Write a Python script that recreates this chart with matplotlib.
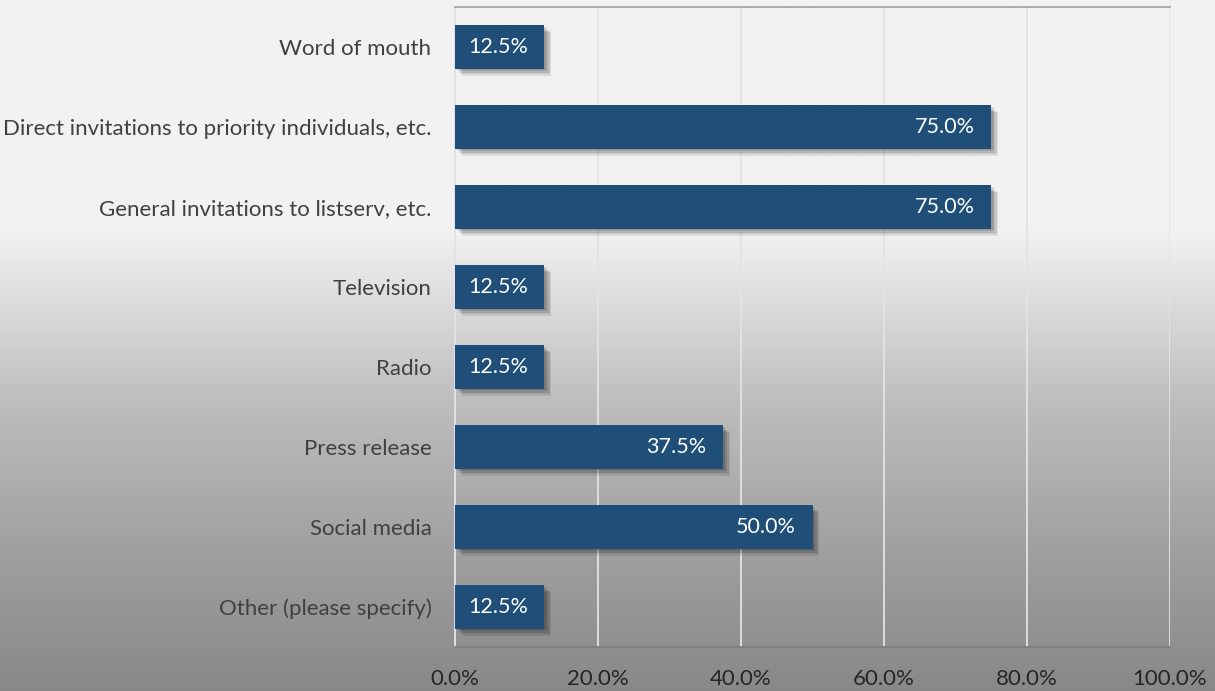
import numpy as np
import matplotlib
matplotlib.use("Agg")
import matplotlib.pyplot as plt
import matplotlib.patheffects as pe
from matplotlib.ticker import FuncFormatter

categories = [
    "Word of mouth",
    "Direct invitations to priority individuals, etc.",
    "General invitations to listserv, etc.",
    "Television",
    "Radio",
    "Press release",
    "Social media",
    "Other (please specify)",
]
values = [12.5, 75.0, 75.0, 12.5, 12.5, 37.5, 50.0, 12.5]
x_ticks = [0, 20, 40, 60, 80, 100]

plt.rcParams['font.family'] = ['Lato', 'DejaVu Sans']

W, H = 1215, 691
fig = plt.figure(figsize=(W / 100, H / 100), dpi=100)

# vertical grey gradient behind everything
rows = np.arange(H)
stops_y = [0, 230, 400, 550, H - 1]
stops_v = [242, 242, 190, 160, 136]
shade = np.interp(rows, stops_y, stops_v) / 255.0
grad = np.repeat(shade[:, None], 2, axis=1)
bg = fig.add_axes([0, 0, 1, 1], zorder=0)
bg.imshow(np.dstack([grad, grad, grad]), aspect='auto', extent=[0, 1, 0, 1])
bg.set_axis_off()

ax = fig.add_axes([455 / W, 1 - 647 / H, (1170 - 455) / W, (647 - 7) / H], zorder=1)
ax.patch.set_alpha(0)

# soft drop shadow built from a few stacked offsets
shadow = [pe.SimplePatchShadow(offset=(dx, -dx), shadow_rgbFace='#000000', alpha=0.09)
          for dx in (1, 2, 3, 4, 5)]
y = np.arange(len(categories))
bars = ax.barh(y, values, height=0.54, color='#1f4e79', zorder=3,
               path_effects=shadow + [pe.Normal()])

for yi, v in zip(y, values):
    ax.annotate(f"{v:.1f}%", xy=(v, yi), xytext=(-12, 0), textcoords='offset points',
                ha='right', va='center', color='white', fontsize=15.5, zorder=4)

ax.set_xlim(0, 100)
ax.set_ylim(len(categories) - 0.5, -0.5)
ax.set_xticks(x_ticks)
ax.xaxis.set_major_formatter(FuncFormatter(lambda v, p: f"{v:.1f}%"))
ax.set_yticks(y)
ax.set_yticklabels(categories)
ax.tick_params(axis='y', length=0, pad=17, labelsize=16, labelcolor='#404040')
ax.tick_params(axis='x', length=0, pad=16, labelsize=16, labelcolor='#262626')

ax.grid(axis='x', color='#e3e3e3', linewidth=1.3, zorder=1)
ax.set_axisbelow(True)
ax.spines['left'].set_color('#e3e3e3')
ax.spines['left'].set_linewidth(1.3)
ax.spines['right'].set_visible(False)
ax.spines['top'].set_color('#a6a6a6')
ax.spines['top'].set_linewidth(1.3)
ax.spines['bottom'].set_color('#808080')
ax.spines['bottom'].set_linewidth(1.3)

fig.savefig("out.png", dpi=100)
